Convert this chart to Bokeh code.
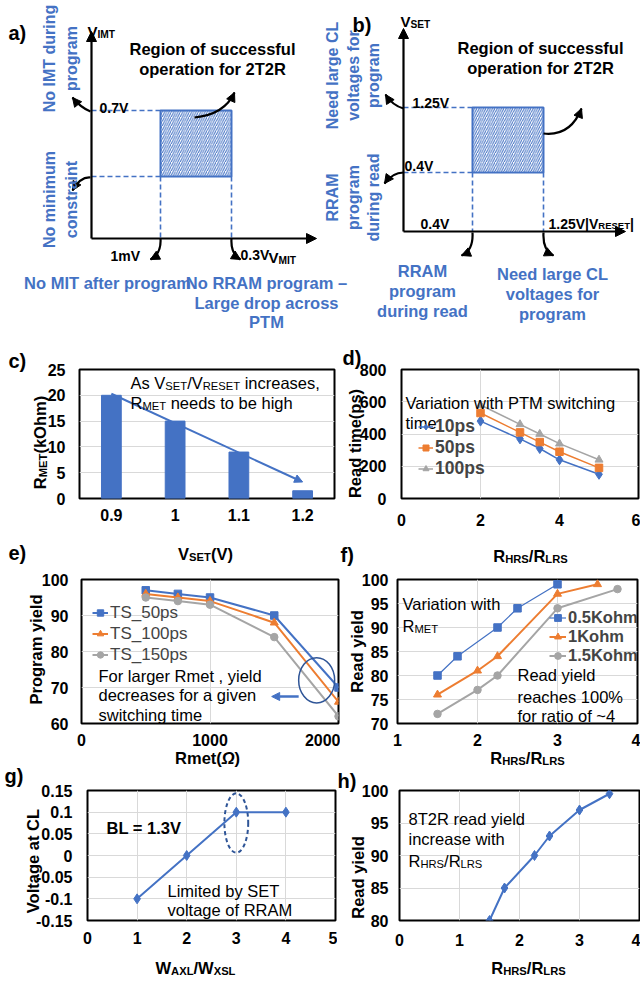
import math
from bokeh.plotting import figure
from bokeh.layouts import column, row
from bokeh.models import (Range1d, FactorRange, FixedTicker, Label, Arrow, NormalHead,
                          Legend, LegendItem, NumeralTickFormatter)
from bokeh.embed import file_html
from bokeh.resources import INLINE

FONT = "Liberation Sans"
BLUE = "#4472C4"
ORANGE = "#ED7D31"
GRAY = "#A5A5A5"
DARK = "#2F5597"
GRID = "#D9D9D9"

# ---------------- data ----------------
# (a) 2T2R operating window: V_MIT (x) and V_IMT (y) limits
a_x_limits = ["1mV", "0.3V"]
a_y_limits = ["", "0.7V"]
# (b) operating window: |V_RESET| (x) and V_SET (y) limits
b_x_limits = ["0.4V", "1.25V"]
b_y_limits = ["0.4V", "1.25V"]
# (c)
vset = ["0.9", "1", "1.1", "1.2"]
rmet_kohm = [20, 15, 9, 1.5]
# (d)
d_ratio = [2, 3, 3.5, 4, 5]
read_time_10ps = [480, 370, 310, 240, 150]
read_time_50ps = [530, 410, 350, 290, 190]
read_time_100ps = [580, 460, 400, 340, 240]
# (e)
rmet_ohm = [500, 750, 1000, 1500, 2000]
yield_ts50 = [97, 96, 95, 90, 70]
yield_ts100 = [96, 95, 94, 88, 66]
yield_ts150 = [95, 94, 93, 84, 62]
# (f)
ratio_05k = [1.5, 1.75, 2.25, 2.5, 3]
read_yield_05k = [80, 84, 90, 94, 99]
ratio_1k = [1.5, 2, 2.25, 3, 3.5]
read_yield_1k = [76, 81, 84, 97, 99]
ratio_15k = [1.5, 2, 2.25, 3, 3.75]
read_yield_15k = [72, 77, 80, 94, 98]
# (g)
w_ratio = [1, 2, 3, 4]
v_cl = [-0.1, 0, 0.1, 0.1]
# (h)
h_ratio = [1.5, 1.75, 2.25, 2.5, 3, 3.5]
h_read_yield = [80, 85, 90, 93, 97, 99.5]


# ---------------- text helpers ----------------
def _mk(groups):
    d = {}
    for w, chars in groups:
        for ch in chars:
            d[ch] = w
    return d


W_REG = _mk([(278, " !,./:;I[]ft"), (222, "ijl"), (333, "()-r"), (500, "ckvxyzJs"),
             (556, "abdeghnopqu0123456789_L\u2013"), (584, "=+~"), (611, "FTZ"),
             (667, "ABEKPSVXY"), (722, "CDHNRUw"), (778, "GOQ"), (833, "Mm"), (889, "%"),
             (944, "W"), (260, "|"), (768, "\u03a9")])
W_BOLD = _mk([(278, " ,./:;Iijl"), (280, "|"), (333, "()-ft!"), (389, "r"), (500, "z"),
              (556, "acekvxys0123456789J_\u2013"), (584, "=+~"), (611, "bdghnopquFLTZ"),
              (667, "EPSVXY"), (722, "ABCDHKNRU"), (778, "GOQw"), (833, "M"), (889, "m%"),
              (944, "W"), (768, "\u03a9")])


def text_width(s, size, bold):
    t = W_BOLD if bold else W_REG
    return sum(t.get(ch, 556) for ch in s) * size / 1000.0


def put(p, org, x, y, parts, size, bold=False, color="black", align="left", rot=False):
    """Place (possibly subscripted) text; x, y are page pixels (y = centre of capitals).
    org=None -> figure whose data coordinates are page pixels; else (frame_left, frame_bottom)."""
    if isinstance(parts, str):
        parts = [(parts, False)]
    sub = round(size * 0.68, 1)
    specs = []
    for part in parts:
        t, s = part[0], part[1]
        st = part[2] if len(part) > 2 else ("bold" if bold else "normal")
        fs = sub if s else size
        specs.append((t, s, st, fs, text_width(t, fs, "bold" in st)))
    total = sum(sp[4] for sp in specs)
    cur = {"left": 0.0, "center": -total / 2, "right": -total}[align]
    for t, s, st, fs, w in specs:
        stripped = t.lstrip(" ")
        lead = text_width(t[:len(t) - len(stripped)], fs, "bold" in st)
        c = cur + lead
        off = 0.36 * size + (0.16 * size if s else 0.0)
        if rot:
            px, py, ang = x + off, y - c, math.pi / 2
        else:
            px, py, ang = x + c, y + off, 0.0
        if org is None:
            kw = dict(x=px, y=py)
        else:
            kw = dict(x=px - org[0], y=org[1] - py, x_units="screen", y_units="screen")
        p.add_layout(Label(text=stripped, text_font=FONT, text_font_size=f"{fs:g}px",
                           text_font_style=st, text_color=color, text_align="left",
                           text_baseline="alphabetic", angle=ang, **kw))
        cur += w


# ---------------- diagram helpers ----------------
def axis_arrow(p, xs, ys, xe, ye):
    p.add_layout(Arrow(x_start=xs, y_start=ys, x_end=xe, y_end=ye, line_color="black",
                       line_width=2.2,
                       end=NormalHead(size=10, fill_color="black", line_color="black",
                                      line_width=1)))


def curved(p, s, c, e):
    p.quadratic(x0=[s[0]], y0=[s[1]], x1=[e[0]], y1=[e[1]], cx=[c[0]], cy=[c[1]],
                line_color="black", line_width=2.2)
    dx, dy = e[0] - c[0], e[1] - c[1]
    n = math.hypot(dx, dy)
    p.add_layout(Arrow(x_start=e[0] - 3 * dx / n, y_start=e[1] - 3 * dy / n, x_end=e[0],
                       y_end=e[1], line_color="black", line_width=2,
                       end=NormalHead(size=9, fill_color="black", line_color="black",
                                      line_width=1)))


def window(p, org, xtip, ytip, box):
    ox, oy = org
    left, right, bottom, top = box
    p.segment(x0=[ox, ox, left, right], y0=[top, bottom, bottom, bottom],
              x1=[left, left, left, right], y1=[top, bottom, oy, oy],
              line_color=BLUE, line_width=1.6, line_dash="5 3")
    p.quad(left=[left], right=[right], top=[top], bottom=[bottom], fill_color="white",
           hatch_pattern="/", hatch_color=BLUE, hatch_scale=4.5, hatch_weight=1,
           line_color=BLUE, line_width=2)
    axis_arrow(p, ox, oy, ox, ytip)
    axis_arrow(p, ox, oy, xtip, oy)


# ---------------- (a) + (b) diagrams ----------------
pab = figure(width=640, height=330, x_range=Range1d(0, 640), y_range=Range1d(330, 0),
             x_axis_type=None, y_axis_type=None, output_backend="svg",
             toolbar_location=None, min_border=0)
pab.outline_line_color = None

window(pab, (91, 238), 316, 31, (160, 231, 176, 110))
for s, c, e in [((90, 111), (80, 107), (72, 97)), ((90, 177), (80, 176), (72, 190)),
                ((160, 238), (161, 253), (150, 259)), ((231, 238), (230, 253), (240, 259)),
                ((194, 117), (224, 114), (234, 92))]:
    curved(pab, s, c, e)
put(pab, None, 8, 25, "a)", 20, bold=True)
put(pab, None, 87, 26, [("V", False), ("IMT", True)], 15, bold=True)
put(pab, None, 212, 43, "Region of successful", 16.5, bold=True, align="center")
put(pab, None, 212, 63, "operation for 2T2R", 16.5, bold=True, align="center")
put(pab, None, 99, 102, a_y_limits[1], 14, bold=True)
put(pab, None, 110, 250, a_x_limits[0], 14, bold=True)
put(pab, None, 240, 249, a_x_limits[1], 14, bold=True)
put(pab, None, 268, 252, [("V", False), ("MIT", True)], 15, bold=True)
for cx, t in [(43, "No IMT during"), (65, "program")]:
    put(pab, None, cx, 58, t, 16, bold=True, color=BLUE, align="center", rot=True)
for cx, t in [(43, "No minimum"), (65, "constraint")]:
    put(pab, None, cx, 199, t, 16, bold=True, color=BLUE, align="center", rot=True)
put(pab, None, 107, 277, "No MIT after program", 16.5, bold=True, color=BLUE, align="center")
for cy, t in [(277, "No RRAM program \u2013"), (297, "Large drop across"), (316, "PTM")]:
    put(pab, None, 266, cy, t, 16.5, bold=True, color=BLUE, align="center")

window(pab, (403, 231), 625, 28, (472, 543, 172, 107))
for s, c, e in [((403, 108), (392, 105), (385, 94)), ((403, 172), (392, 172), (384, 183)),
                ((472, 232), (473, 250), (461, 255)), ((543, 232), (542, 250), (553, 255)),
                ((543, 133), (570, 136), (581, 108))]:
    curved(pab, s, c, e)
put(pab, None, 352, 17, "b)", 20, bold=True)
put(pab, None, 400, 16, [("V", False), ("SET", True)], 15, bold=True)
put(pab, None, 540, 42, "Region of successful", 16.5, bold=True, align="center")
put(pab, None, 540, 62, "operation for 2T2R", 16.5, bold=True, align="center")
put(pab, None, 412, 97, b_y_limits[1], 14, bold=True)
put(pab, None, 404, 160, b_y_limits[0], 14, bold=True)
put(pab, None, 420, 218, b_x_limits[0], 14, bold=True)
put(pab, None, 548, 218, [(b_x_limits[1], False), ("|V", False), ("RESET", True), ("|", False)],
    14, bold=True)
for cx, t in [(326, "Need large CL"), (347, "voltages for"), (367, "program")]:
    put(pab, None, cx, 75, t, 16, bold=True, color=BLUE, align="center", rot=True)
for cx, t in [(326, "RRAM"), (347, "program"), (367, "during read")]:
    put(pab, None, cx, 197, t, 16, bold=True, color=BLUE, align="center", rot=True)
for cy, t in [(265, "RRAM"), (285, "program"), (305, "during read")]:
    put(pab, None, 422, cy, t, 16.5, bold=True, color=BLUE, align="center")
for cy, t in [(268, "Need large CL"), (288, "voltages for"), (308, "program")]:
    put(pab, None, 552, cy, t, 16.5, bold=True, color=BLUE, align="center")


# ---------------- chart helpers ----------------
def chart(width, height, xr, yr, L, R, T, B):
    p = figure(width=width, height=height, x_range=xr, y_range=yr, output_backend="svg",
               toolbar_location=None, min_border_left=L, min_border_right=R,
               min_border_top=T, min_border_bottom=B)
    p.outline_line_color = "black"
    p.outline_line_width = 2
    p.outline_line_alpha = 1
    for ax in list(p.xaxis) + list(p.yaxis):
        ax.axis_line_color = None
        ax.major_tick_line_color = None
        ax.minor_tick_line_color = None
        ax.major_tick_out = 0
        ax.major_tick_in = 0
        ax.minor_tick_out = 0
        ax.major_label_text_font = FONT
        ax.major_label_text_font_size = "16px"
        ax.major_label_text_font_style = "bold"
        ax.major_label_text_color = "black"
    p.xgrid.grid_line_color = GRID
    p.ygrid.grid_line_color = GRID
    return p


def ticks(p, xt, yt, xs, ys):
    if xt is not None:
        p.xaxis.ticker = FixedTicker(ticks=xt)
    p.yaxis.ticker = FixedTicker(ticks=yt)
    p.xaxis.major_label_standoff = xs
    p.yaxis.major_label_standoff = ys


def legend(p, items, loc, size, bold, glyph_w, item_h):
    lg = Legend(items=[LegendItem(label=l, renderers=r) for l, r in items], location=loc,
                orientation="vertical", label_text_font=FONT,
                label_text_font_size=f"{size:g}px",
                label_text_font_style="bold" if bold else "normal",
                glyph_width=glyph_w, glyph_height=item_h, label_height=item_h, spacing=0,
                padding=0, margin=0, label_standoff=2, border_line_color=None,
                background_fill_alpha=0)
    p.add_layout(lg)


def series(p, x, y, color, marker, size, lw=1.8):
    l = p.line(x, y, line_color=color, line_width=lw)
    m = p.scatter(x, y, marker=marker, size=size, fill_color=color, line_color=color)
    return [l, m]


# ---------------- (c) ----------------
pc = chart(338, 230, FactorRange(factors=vset, range_padding=0), Range1d(0, 25), 79, 4, 39, 57)
OC = (79, 503)
ticks(pc, None, [0, 5, 10, 15, 20, 25], 10, 14)
pc.xgrid.grid_line_color = None
pc.vbar(x=vset, top=rmet_kohm, width=0.31, fill_color=BLUE, line_color=BLUE)
pc.add_layout(Arrow(x_start=0.5, y_start=rmet_kohm[0] + 0.3, x_end=len(vset) - 0.5,
                    y_end=rmet_kohm[-1] + 1.7, line_color=BLUE, line_width=2,
                    end=NormalHead(size=8, fill_color=BLUE, line_color=BLUE, line_width=1)))
put(pc, OC, 130, 382, [("As V", False), ("SET", True), ("/V", False), ("RESET", True),
                       (" increases,", False)], 16.5)
put(pc, OC, 130, 402, [("R", False), ("MET", True), (" needs to be high", False)], 16.5)

# ---------------- (d) ----------------
pd_ = chart(302, 230, Range1d(0, 6), Range1d(0, 800), 63, 2, 34, 62)
OD = (401, 498)
ticks(pd_, [0, 2, 4, 6], [0, 200, 400, 600, 800], 15, 15)
r10 = series(pd_, d_ratio, read_time_10ps, BLUE, "diamond", 10, 1.5)
r50 = series(pd_, d_ratio, read_time_50ps, ORANGE, "square", 7.5, 1.5)
r100 = series(pd_, d_ratio, read_time_100ps, GRAY, "triangle", 8, 1.5)
legend(pd_, [("10ps", r10), ("50ps", r50), ("100ps", r100)], (17, 19), 17.5, True, 15, 17)
put(pd_, OD, 405, 397, "Variation with PTM switching", 16.5)
put(pd_, OD, 405, 417, "time", 16.5)

# ---------------- (e) ----------------
pe = chart(340, 200, Range1d(0, 2000), Range1d(60, 100), 81, 2, 19, 37)
OE = (81, 723)
ticks(pe, [0, 1000, 2000], [60, 70, 80, 90, 100], 10, 13)
e50 = series(pe, rmet_ohm, yield_ts50, BLUE, "square", 7.5, 2)
e100 = series(pe, rmet_ohm, yield_ts100, ORANGE, "triangle", 8, 2)
e150 = series(pe, rmet_ohm, yield_ts150, GRAY, "circle", 7.5, 2)
legend(pe, [("TS_50ps", e50), ("TS_100ps", e100), ("TS_150ps", e150)], (11, 58), 17, False,
       16, 21)
pe.ellipse(x=[rmet_ohm[-1] - 170], y=[72], width=[280], height=[12.6], fill_color=None,
           line_color=DARK, line_width=1.5)
pe.add_layout(Arrow(x_start=1690, y_start=67.5, x_end=1480, y_end=67.5, line_color=BLUE,
                    line_width=2.5,
                    end=NormalHead(size=8, fill_color=BLUE, line_color=BLUE, line_width=1)))
for cy, t in [(670, "For larger Rmet , yield"), (689, "decreases for a given"),
              (709, "switching time")]:
    put(pe, OE, 98, cy, t, 16.5)

# ---------------- (f) ----------------
pf = chart(300, 200, Range1d(1, 4), Range1d(70, 100), 57, 3, 19, 37)
OF = (397, 723)
ticks(pf, [1, 2, 3, 4], [70, 75, 80, 85, 90, 95, 100], 10, 9)
f05 = series(pf, ratio_05k, read_yield_05k, BLUE, "square", 7.5, 1.2)
f1 = series(pf, ratio_1k, read_yield_1k, ORANGE, "triangle", 8, 2)
f15 = series(pf, ratio_15k, read_yield_15k, GRAY, "circle", 7.5, 2)
legend(pf, [("0.5Kohm", f05), ("1Kohm", f1), ("1.5Kohm", f15)], (152, 58), 16.5, True, 17, 17)
put(pf, OF, 402, 598, "Variation with", 16.5)
put(pf, OF, 402, 620, [("R", False), ("MET", True)], 16.5)
for cy, t in [(669, "Read yield"), (691, "reaches 100%"), (710, "for ratio of ~4")]:
    put(pf, OF, 517, cy, t, 16.5)

# ---------------- (g) ----------------
pg = chart(337, 221, Range1d(0, 5), Range1d(-0.15, 0.15), 87, 2, 30, 58)
OG = (87, 923)
ticks(pg, [0, 1, 2, 3, 4, 5], [-0.15, -0.1, -0.05, 0, 0.05, 0.1, 0.15], 11, 15)
pg.yaxis.formatter = NumeralTickFormatter(format="0.[00]")
series(pg, w_ratio, v_cl, BLUE, "diamond", 10, 2)
pg.ellipse(x=[w_ratio[2]], y=[v_cl[2] - 0.025], width=[0.48], height=[0.137], fill_color=None,
           line_color=DARK, line_width=2, line_dash="4 3")
put(pg, OG, 106, 825, "BL = 1.3V", 16.5, bold=True)
put(pg, OG, 167, 888, "Limited by SET", 16.5)
put(pg, OG, 167, 907, "voltage of RRAM", 16.5)

# ---------------- (h) ----------------
ph = chart(303, 221, Range1d(0, 4), Range1d(80, 100), 62, 1, 27, 61)
OH = (399, 920)
ticks(ph, [0, 1, 2, 3, 4], [80, 85, 90, 95, 100], 13, 11)
series(ph, h_ratio, h_read_yield, BLUE, "diamond", 10, 2)
put(ph, OH, 408, 813, "8T2R read yield", 16.5)
put(ph, OH, 408, 833, "increase with", 16.5)
put(ph, OH, 408, 855, [("R", False), ("HRS", True), ("/R", False), ("LRS", True)], 16.5)

# ---------------- transparent overlay for texts outside the plot frames ----------------
ov = figure(width=640, height=981, x_range=Range1d(0, 640), y_range=Range1d(981, 0),
            x_axis_type=None, y_axis_type=None, output_backend="svg",
            toolbar_location=None, min_border=0)
ov.outline_line_color = None
ov.background_fill_color = None
ov.border_fill_color = None
ov.margin = (-981, 0, 0, 0)

RATIO = [("R", False), ("HRS", True), ("/R", False), ("LRS", True)]
for x, y, t in [(8, 353, "c)"), (8, 545, "e)"), (342, 350, "d)"), (340, 547, "f)"),
                (4, 768, "g)"), (337, 773, "h)")]:
    put(ov, None, x, y, t, 20, bold=True)
put(ov, None, 34, 442, [("R", False), ("MET", True), ("(kOhm)", False)], 16.5, bold=True,
    align="center", rot=True)
put(ov, None, 205, 548, [("V", False), ("SET", True), ("(V)", False)], 16.5, bold=True,
    align="center")
put(ov, None, 349, 443, "Read time(ps)", 16.5, bold=True, align="center", rot=True)
put(ov, None, 530, 550, RATIO, 16.5, bold=True, align="center")
put(ov, None, 30, 649, "Program yield", 16.5, bold=True, align="center", rot=True)
put(ov, None, 207, 752, [("Rmet(", False), ("\u03a9", False, "bold italic"), (")", False)],
    16.5, bold=True, align="center")
put(ov, None, 351, 651, "Read yield", 16.5, bold=True, align="center", rot=True)
put(ov, None, 527, 752, RATIO, 16.5, bold=True, align="center")
put(ov, None, 27, 860, "Voltage at CL", 16.5, bold=True, align="center", rot=True)
put(ov, None, 195, 962, [("W", False), ("AXL", True), ("/W", False), ("XSL", True)], 16.5,
    bold=True, align="center")
put(ov, None, 352, 877, "Read yield", 16.5, bold=True, align="center", rot=True)
put(ov, None, 528, 962, RATIO, 16.5, bold=True, align="center")

grid = column(pab, row(pc, pd_), row(pe, pf), row(pg, ph))
layout = column(grid, ov)
open("out.html", "w").write(file_html(layout, INLINE))
